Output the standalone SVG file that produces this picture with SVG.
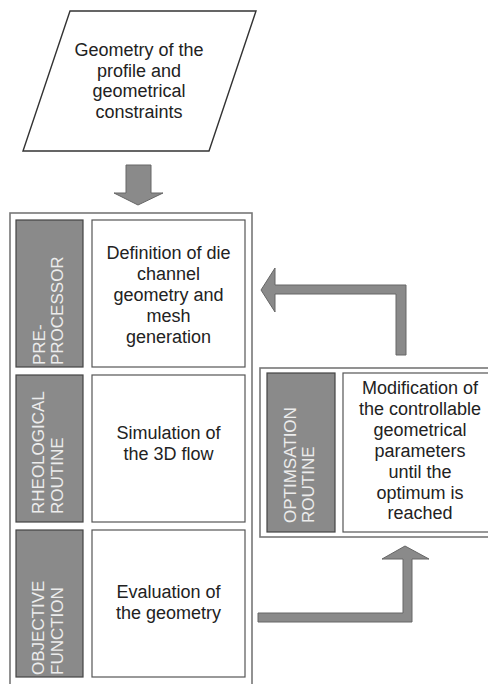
<svg xmlns="http://www.w3.org/2000/svg" width="488" height="684" viewBox="0 0 488 684">
<style>
.txt{font-family:"Liberation Sans",Arial,sans-serif;font-size:18px;fill:#222;text-anchor:middle}
.lbl{font-family:"Liberation Sans",Arial,sans-serif;font-size:17px;fill:#ececec;text-anchor:start}
.frame{fill:#fff;stroke:#777;stroke-width:1.6}
.dark{fill:#8a8a8a;stroke:#444;stroke-width:1.2}
.white{fill:#fff;stroke:#555;stroke-width:1.2}
.arrow{fill:#8a8a8a;stroke:#666;stroke-width:1}
</style>
<rect width="488" height="684" fill="#fff"/>
<g id="input">
<polygon points="70,11 256,11 209,151 23,151" fill="#fff" stroke="#333" stroke-width="1.4"/>
<text class="txt" x="139" y="56">Geometry of the</text>
<text class="txt" x="139" y="77">profile and</text>
<text class="txt" x="139" y="97">geometrical</text>
<text class="txt" x="139" y="118">constraints</text>
</g>
<g id="main-frame">
<rect class="frame" x="10" y="213" width="242" height="480"/>
</g>
<g id="preprocessor">
<rect class="dark" x="16" y="220" width="67" height="147"/>
<text class="lbl" transform="translate(45,365) rotate(-90)">PRE-</text>
<text class="lbl" transform="translate(63,365) rotate(-90)">PROCESSOR</text>
<rect class="white" x="92" y="220" width="153" height="147"/>
<text class="txt" x="168.5" y="259">Definition of die</text>
<text class="txt" x="168.5" y="280">channel</text>
<text class="txt" x="168.5" y="301">geometry and</text>
<text class="txt" x="168.5" y="322">mesh</text>
<text class="txt" x="168.5" y="343">generation</text>
</g>
<g id="rheological">
<rect class="dark" x="16" y="375" width="67" height="147"/>
<text class="lbl" transform="translate(44,514) rotate(-90)">RHEOLOGICAL</text>
<text class="lbl" transform="translate(63,514) rotate(-90)">ROUTINE</text>
<rect class="white" x="92" y="375" width="153" height="147"/>
<text class="txt" x="168.5" y="439">Simulation of</text>
<text class="txt" x="168.5" y="460">the 3D flow</text>
</g>
<g id="objective">
<rect class="dark" x="16" y="530" width="67" height="147"/>
<text class="lbl" transform="translate(44,675) rotate(-90)">OBJECTIVE</text>
<text class="lbl" transform="translate(63,675) rotate(-90)">FUNCTION</text>
<rect class="white" x="92" y="530" width="153" height="147"/>
<text class="txt" x="168.5" y="598">Evaluation of</text>
<text class="txt" x="168.5" y="619">the geometry</text>
</g>
<g id="optimisation">
<rect class="frame" x="260" y="368" width="240" height="169"/>
<rect class="dark" x="267" y="373" width="68" height="159"/>
<text class="lbl" transform="translate(296,523) rotate(-90)">OPTIMSATION</text>
<text class="lbl" transform="translate(314,523) rotate(-90)">ROUTINE</text>
<rect class="white" x="343" y="373" width="160" height="159"/>
<text class="txt" x="420" y="394">Modification of</text>
<text class="txt" x="420" y="415">the controllable</text>
<text class="txt" x="420" y="436">geometrical</text>
<text class="txt" x="420" y="457">parameters</text>
<text class="txt" x="420" y="478">until the</text>
<text class="txt" x="420" y="499">optimum is</text>
<text class="txt" x="420" y="519">reached</text>
</g>
<g id="connectors">
<polygon class="arrow" points="126,165 151,165 151,193 163,193 138,205 114,193 126,193"/>
<polygon class="arrow" points="261,290 275,268 275,285 406,285 406,355 396,355 396,294 275,294 275,312"/>
<polygon class="arrow" points="258,613 403,613 403,559 382,559 405,546 429,559 412,559 412,622 258,622"/>
</g>
</svg>
